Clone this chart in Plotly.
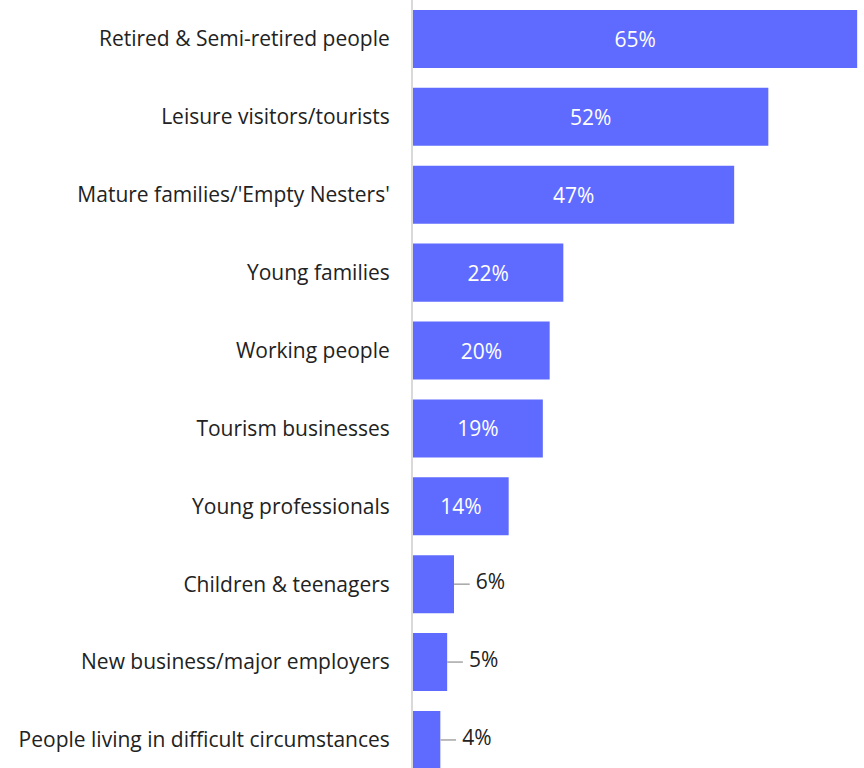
import plotly.graph_objects as go

categories = [
    "Retired & Semi-retired people",
    "Leisure visitors/tourists",
    "Mature families/'Empty Nesters'",
    "Young families",
    "Working people",
    "Tourism businesses",
    "Young professionals",
    "Children & teenagers",
    "New business/major employers",
    "People living in difficult circumstances",
]
values = [65, 52, 47, 22, 20, 19, 14, 6, 5, 4]
labels = [f"{v}%" for v in values]

BAR = "#5F6BFF"
FONT = "'Open Sans', Lato, sans-serif"
INSIDE_MIN = 10  # values below this get an outside label with a leader line

inside_text = [t if v >= INSIDE_MIN else "" for v, t in zip(values, labels)]

fig = go.Figure()
fig.add_trace(go.Bar(
    x=values,
    y=categories,
    orientation="h",
    marker=dict(color=BAR, line=dict(width=0)),
    width=0.745,
    text=inside_text,
    textposition="inside",
    insidetextanchor="middle",
    textfont=dict(family=FONT, size=21, color="white"),
    hoverinfo="skip",
))

# Small values: label to the right of the bar, joined by a short grey leader
lead_len = 2.3
small = [(c, v, t) for c, v, t in zip(categories, values, labels) if v < INSIDE_MIN]
for c, v, t in small:
    fig.add_shape(
        type="line", xref="x", yref="y",
        x0=v, x1=v + lead_len, y0=c, y1=c,
        line=dict(color="#A6A6A6", width=1.5),
    )
fig.add_trace(go.Scatter(
    x=[v + lead_len + 0.9 for _, v, _ in small],
    y=[c for c, _, _ in small],
    mode="text",
    text=[t for _, _, t in small],
    textposition="middle right",
    textfont=dict(family=FONT, size=21, color="#222222"),
    hoverinfo="skip",
    showlegend=False,
))

n = len(categories)
fig.update_layout(
    width=864, height=768,
    margin=dict(l=413, r=0, t=0, b=0),
    paper_bgcolor="white", plot_bgcolor="white",
    showlegend=False,
    bargap=0.255,
    xaxis=dict(range=[0, 66.0], visible=False, fixedrange=True),
    yaxis=dict(
        type="category",
        categoryorder="array", categoryarray=categories,
        range=[n - 0.64, -0.5],
        showline=True, linecolor="#D9D9D9", linewidth=2,
        ticks="", showgrid=False, zeroline=False,
        ticklabelstandoff=17,
        tickfont=dict(family=FONT, size=21, color="#222222"),
    ),
    uniformtext=dict(minsize=10, mode="show"),
)

fig.write_html("out.html")
